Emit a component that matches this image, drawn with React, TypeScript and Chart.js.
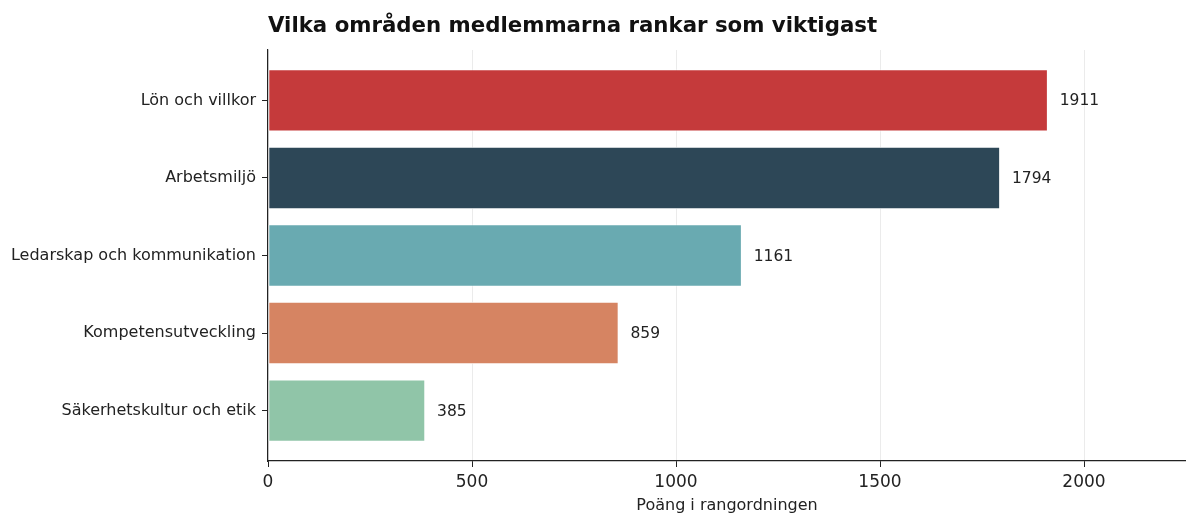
import React, { useEffect, useRef } from "react";
import { Chart, registerables } from "chart.js";

Chart.register(...registerables);

const categories = [
  "Lön och villkor",
  "Arbetsmiljö",
  "Ledarskap och kommunikation",
  "Kompetensutveckling",
  "Säkerhetskultur och etik",
];
const points = [1911, 1794, 1161, 859, 385];
const barColors = ["#c53a3b", "#2d4757", "#69aab1", "#d68462", "#90c5a8"];
const xTicks = [0, 500, 1000, 1500, 2000];
const chartTitle = "Vilka områden medlemmarna rankar som viktigast";
const xTitle = "Poäng i rangordningen";

const FONT = "'DejaVu Sans', sans-serif";

export default function App() {
  const ref = useRef<HTMLCanvasElement | null>(null);

  useEffect(() => {
    if (!ref.current) return;
    const titlePlugin = {
      id: "titlePlugin",
      afterDraw(chart: any) {
        const ctx = chart.ctx;
        ctx.save();
        ctx.font = `bold 21.3px ${FONT}`;
        ctx.fillStyle = "#111111";
        ctx.textAlign = "left";
        ctx.textBaseline = "alphabetic";
        ctx.fillText(chartTitle, chart.chartArea.left, 31.5);
        ctx.restore();
      },
    };
    const valuePlugin = {
      id: "valuePlugin",
      afterDatasetsDraw(chart: any) {
        const ctx = chart.ctx;
        const xs = chart.scales.x;
        const ys = chart.scales.y;
        ctx.save();
        ctx.font = `15.5px ${FONT}`;
        ctx.fillStyle = "#222222";
        ctx.textAlign = "left";
        ctx.textBaseline = "middle";
        points.forEach((v, i) => {
          ctx.fillText(String(v), xs.getPixelForValue(v) + 12, ys.getPixelForValue(i) + 1);
        });
        ctx.restore();
      },
    };
    const chart = new Chart(ref.current, {
      type: "bar",
      data: {
        datasets: [
          {
            data: points.map((v, i) => ({ x: v, y: i })) as any,
            backgroundColor: barColors,
            borderColor: "#ffffff",
            borderWidth: 0.8,
            borderSkipped: false,
            categoryPercentage: 1,
            barPercentage: 0.8,
          },
        ],
      },
      options: {
        indexAxis: "y",
        animation: false,
        responsive: false,
        layout: { padding: { top: 50, right: 0, left: 0, bottom: 0 } },
        plugins: {
          legend: { display: false },
          title: { display: false },
          tooltip: { enabled: false },
        },
        scales: {
          x: {
            type: "linear",
            min: 0,
            max: 2250,
            offset: false,
            afterBuildTicks: (s: any) => {
              s.ticks = xTicks.map((v) => ({ value: v }));
            },
            afterFit: (s: any) => {
              s.height = 52;
            },
            grid: {
              color: "#ebebeb",
              lineWidth: 1,
              tickColor: "#222222",
              tickLength: 6,
              drawTicks: true,
              offset: false,
            },
            border: { display: true, color: "#222222", width: 1.2 },
            ticks: {
              color: "#222222",
              font: { family: FONT, size: 17 },
              padding: 5,
              maxRotation: 0,
              callback: (v: any) => String(v),
            },
            title: {
              display: true,
              text: xTitle,
              color: "#222222",
              font: { family: FONT, size: 16 },
              padding: { top: 0, bottom: -2 },
            },
          },
          y: {
            type: "linear",
            reverse: true,
            min: -0.65,
            max: 4.65,
            offset: false,
            afterBuildTicks: (s: any) => {
              s.ticks = categories.map((_, i) => ({ value: i }));
            },
            afterFit: (s: any) => {
              s.width = 268;
            },
            grid: {
              drawOnChartArea: false,
              tickColor: "#222222",
              tickLength: 6,
              offset: false,
            },
            border: { display: true, color: "#222222", width: 1.2 },
            ticks: {
              color: "#222222",
              font: { family: FONT, size: 16 },
              padding: 6,
              callback: (v: any) => categories[v] ?? "",
            },
          },
        },
      },
      plugins: [titlePlugin, valuePlugin],
    });
    return () => chart.destroy();
  }, []);

  return (
    <div style={{ position: "fixed", left: 0, top: 0, width: 1186, height: 513, background: "#ffffff" }}>
      <canvas ref={ref} width={1186} height={513} style={{ display: "block" }} />
    </div>
  );
}
